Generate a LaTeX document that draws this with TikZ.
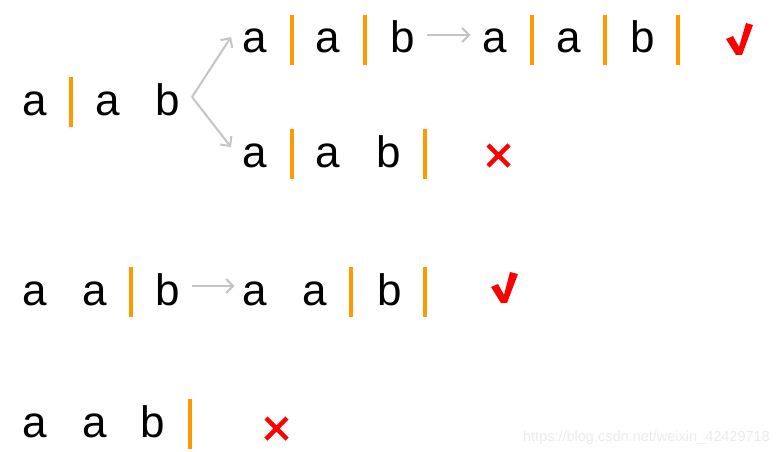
\documentclass[tikz,border=0pt]{standalone}
\usepackage{fontspec}
\setmainfont{Liberation Sans}
\usetikzlibrary{arrows.meta}
\definecolor{barorange}{HTML}{FF9900}
\definecolor{arrgray}{HTML}{C4C4C4}
\definecolor{markred}{HTML}{FF0000}
\definecolor{wmgray}{HTML}{EBEBEB}
\tikzset{
  letter/.style={inner sep=0pt,anchor=base,font=\fontsize{44}{44}\selectfont},
  barline/.style={draw=barorange,line width=4pt},
  grayarrow/.style={draw=arrgray,line width=2pt,-{Straight Barb[length=7pt,width=14pt,line width=2pt]}},
  crossmark/.style={draw=markred,line width=4.5pt},
  checkmark/.style={fill=markred}
}
\newcommand{\sepbar}[2]{\draw[barline] (#1,#2-38) -- (#1,#2+12);}
\begin{document}
\begin{tikzpicture}[x=1pt,y=-1pt]
\useasboundingbox (0,0) rectangle (780,452);
% Row 0
\node[letter] (r0a) at (34.5,115) {a};
\sepbar{71}{115}
\node[letter] (r0b2) at (107.5,115) {a};
\node[letter] (r0c) at (167.5,115) {b};
% Row 1
\node[letter] (r1a) at (255,53) {a};
\sepbar{292}{53}
\node[letter] (r1b) at (327.5,53) {a};
\sepbar{365}{53}
\node[letter] (r1c) at (402.5,53) {b};
\node[letter] (r1d) at (495,53) {a};
\sepbar{532}{53}
\node[letter] (r1e) at (568.5,53) {a};
\sepbar{605}{53}
\node[letter] (r1f) at (642.5,53) {b};
\sepbar{678}{53}
\fill[checkmark] (726,39) -- (733,36) -- (739,47) -- (746,23) -- (753,25) -- (742,55) -- (736,55) -- cycle;
% Row 2
\node[letter] (r2a) at (255,167) {a};
\sepbar{292}{167}
\node[letter] (r2b) at (327.5,167) {a};
\node[letter] (r2c) at (388.5,167) {b};
\sepbar{425}{167}
\draw[crossmark] (488,145) -- (509,166) (509,145) -- (488,166);
% fork arrows
\coordinate (fork) at (192,97);
\coordinate (up) at (231,37);
\coordinate (dn) at (231,147);
\draw[grayarrow] (fork) -- (up);
\draw[grayarrow] (fork) -- (dn);
\draw[grayarrow] ([xshift=12pt,yshift=18pt]r1c.base east) -- ([xshift=-12pt,yshift=18pt]r1d.base west);
% Row 3
\node[letter] (r3a) at (34.5,305) {a};
\node[letter] (r3b) at (94.5,305) {a};
\sepbar{131}{305}
\node[letter] (r3c) at (167.5,305) {b};
\node[letter] (r3d) at (255,305) {a};
\node[letter] (r3e) at (315,305) {a};
\sepbar{351}{305}
\node[letter] (r3f) at (389.5,305) {b};
\sepbar{425}{305}
\draw[grayarrow] ([xshift=12pt,yshift=19pt]r3c.base east) -- ([xshift=-8pt,yshift=19pt]r3d.base west);
\fill[checkmark] (491,287) -- (498,284) -- (504,295) -- (510,272) -- (518,274) -- (507,303) -- (501,303) -- cycle;
% Row 4
\node[letter] (r4a) at (34.5,437) {a};
\node[letter] (r4b) at (94.5,437) {a};
\node[letter] (r4c) at (152.5,437) {b};
\sepbar{190}{437}
\draw[crossmark] (266,418) -- (287,439) (287,418) -- (266,439);
% watermark
\node[inner sep=0pt,anchor=base east,text=wmgray,font=\fontsize{14.5}{14.5}\selectfont] (wm) at (770,441) {https://blog.csdn.net/weixin\_42429718};
\end{tikzpicture}
\end{document}
